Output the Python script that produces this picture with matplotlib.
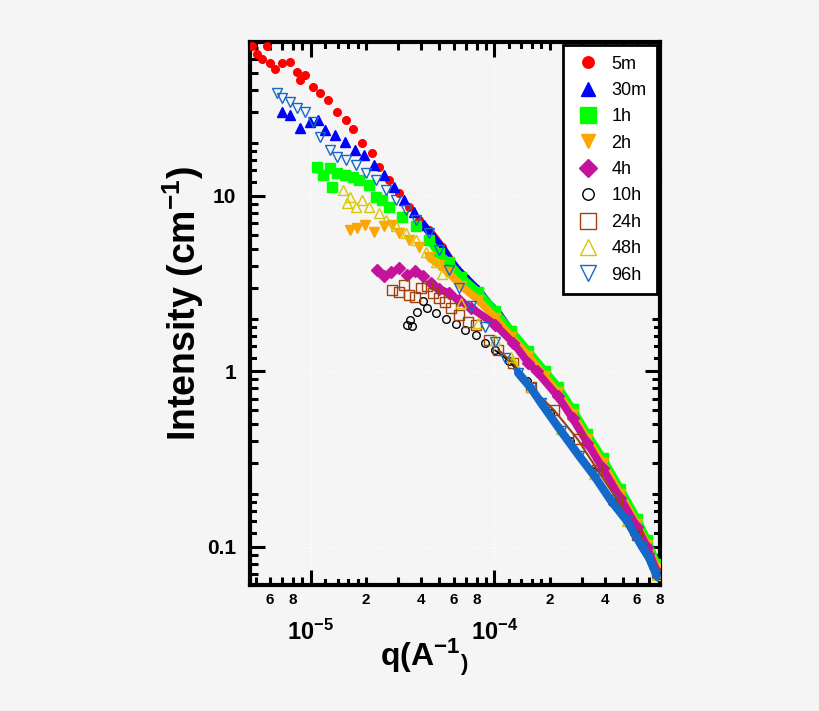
import numpy as np
import matplotlib
matplotlib.use('Agg')
import matplotlib.pyplot as plt
from matplotlib.ticker import LogLocator, FuncFormatter, NullFormatter

plt.rcParams['font.family'] = 'Liberation Sans'
plt.rcParams['font.weight'] = 'bold'
plt.rcParams['mathtext.fontset'] = 'custom'
plt.rcParams['mathtext.rm'] = 'Liberation Sans:bold'
plt.rcParams['mathtext.bf'] = 'Liberation Sans:bold'
plt.rcParams['mathtext.default'] = 'bf'

## data: q (A^-1) and intensity (cm^-1)
q_5m = [4.8e-6, 5.1e-6, 5.4e-6, 5.8e-6, 6.0e-6, 6.4e-6, 7.0e-6, 7.7e-6, 8.4e-6, 8.7e-6,
        9.3e-6, 1.03e-5, 1.12e-5, 1.24e-5, 1.38e-5, 1.56e-5, 1.69e-5, 1.91e-5, 2.16e-5,
        2.36e-5, 2.67e-5, 3.03e-5, 3.43e-5, 3.88e-5, 4.4e-5, 5.2e-5, 6.38e-5, 8.19e-5,
        1.05e-4, 1.35e-4, 1.73e-4, 2.22e-4, 2.85e-4, 3.65e-4, 4.68e-4, 6.0e-4, 7.5e-4]
I_5m = [71, 64, 60, 71, 57, 53, 57, 58, 51, 46,
        49, 41.5, 38.5, 35, 30, 27, 24, 20, 17.5,
        14.6, 12.3, 10.4, 8.7, 7.3, 6.4, 5.1, 3.7, 2.8,
        2.1, 1.5, 1.08, 0.78, 0.5, 0.32, 0.21, 0.14, 0.082]

q_30m = [7.0e-6, 7.7e-6, 8.7e-6, 9.9e-6, 1.09e-5, 1.19e-5, 1.35e-5, 1.53e-5, 1.73e-5,
         1.96e-5, 2.22e-5, 2.51e-5, 2.85e-5, 3.22e-5, 3.65e-5, 4.13e-5, 4.68e-5, 5.3e-5,
         5.64e-5, 6.38e-5, 7.23e-5, 8.19e-5, 9.28e-5, 1.05e-4, 1.24e-4, 1.53e-4, 1.88e-4,
         2.22e-4, 2.67e-4, 3.22e-4, 3.9e-4, 4.86e-4, 6.0e-4, 6.8e-4, 7.7e-4]
I_30m = [30, 29, 24.5, 26.5, 27, 23.8, 22.3, 20.4, 18.3,
         17.2, 15, 13.2, 11.3, 9.5, 8.1, 6.8, 5.75, 4.9,
         4.4, 3.75, 3.3, 2.9, 2.45, 2.15, 1.68, 1.29, 0.99,
         0.8, 0.6, 0.43, 0.31, 0.21, 0.14, 0.108, 0.079]

q_1h = [1.08e-5, 1.16e-5, 1.27e-5, 1.31e-5, 1.38e-5, 1.53e-5, 1.69e-5, 1.84e-5, 2.08e-5,
        2.27e-5, 2.45e-5, 2.67e-5, 3.14e-5, 3.74e-5, 4.4e-5, 4.98e-5, 5.64e-5, 6.6e-5,
        8.19e-5, 1.01e-4, 1.24e-4, 1.53e-4, 1.88e-4, 2.22e-4, 2.67e-4, 3.22e-4, 3.9e-4,
        4.86e-4, 6.0e-4, 6.8e-4, 7.7e-4]
I_1h = [14.6, 13.2, 14.4, 11.3, 13.5, 13.2, 12.8, 12.3, 11.5,
        9.9, 9.5, 8.7, 7.6, 6.7, 5.6, 4.7, 4.2, 3.45,
        2.84, 2.21, 1.70, 1.31, 1.01, 0.82, 0.61, 0.44, 0.32,
        0.215, 0.145, 0.11, 0.08]

q_2h = [1.63e-5, 1.79e-5, 1.98e-5, 2.2e-5, 2.51e-5, 2.77e-5, 3.03e-5, 3.43e-5, 3.88e-5,
        4.4e-5, 4.98e-5, 5.64e-5, 6.6e-5, 8.19e-5, 1.01e-4, 1.24e-4, 1.53e-4, 1.88e-4,
        2.22e-4, 2.67e-4, 3.22e-4, 3.9e-4, 4.86e-4, 6.0e-4, 6.8e-4, 7.7e-4]
I_2h = [6.4, 6.6, 6.85, 6.2, 6.7, 6.85, 6.15, 5.6, 5.1,
        4.5, 4.05, 3.65, 3.07, 2.55, 2.02, 1.57, 1.23, 0.94,
        0.76, 0.57, 0.41, 0.30, 0.20, 0.135, 0.103, 0.076]

q_4h = [2.3e-5, 2.51e-5, 2.74e-5, 3.03e-5, 3.34e-5, 3.7e-5, 4.07e-5, 4.5e-5, 4.98e-5,
        5.64e-5, 6.38e-5, 7.5e-5, 1.01e-4, 1.27e-4, 1.53e-4, 1.7e-4, 2.22e-4, 2.67e-4,
        3.22e-4, 3.9e-4, 4.86e-4, 6.0e-4, 6.8e-4, 7.7e-4]
I_4h = [3.8, 3.5, 3.7, 3.9, 3.55, 3.75, 3.5, 3.2, 2.95,
        2.8, 2.55, 2.3, 1.85, 1.45, 1.12, 1.0, 0.72, 0.54,
        0.39, 0.28, 0.19, 0.13, 0.10, 0.072]

q_10h = [3.34e-5, 3.46e-5, 3.55e-5, 3.79e-5, 4.07e-5, 4.3e-5, 4.8e-5, 5.43e-5, 6.15e-5,
         6.96e-5, 7.9e-5, 8.9e-5, 1.01e-4, 1.2e-4, 1.5e-4, 2.0e-4, 2.6e-4, 3.4e-4,
         4.4e-4, 5.8e-4, 7.7e-4]
I_10h = [1.84, 1.96, 1.82, 2.18, 2.52, 2.3, 2.16, 1.99, 1.87,
         1.72, 1.62, 1.45, 1.32, 1.15, 0.88, 0.58, 0.4, 0.27,
         0.18, 0.12, 0.069]

q_24h = [2.78e-5, 3.03e-5, 3.2e-5, 3.43e-5, 3.7e-5, 3.98e-5, 4.3e-5, 4.63e-5, 4.98e-5,
         5.37e-5, 5.79e-5, 6.38e-5, 7.23e-5, 7.9e-5, 9.3e-5, 1.05e-4, 1.27e-4, 1.59e-4,
         2.12e-4, 2.85e-4, 3.65e-4, 4.68e-4, 6.0e-4, 7.7e-4]
I_24h = [2.91, 2.83, 3.1, 2.73, 2.65, 2.98, 3.07, 2.8, 2.63,
         2.49, 2.3, 2.1, 1.91, 1.84, 1.51, 1.33, 1.11, 0.81,
         0.6, 0.41, 0.275, 0.185, 0.117, 0.071]

q_48h = [1.49e-5, 1.57e-5, 1.63e-5, 1.77e-5, 1.91e-5, 2.08e-5, 2.36e-5, 2.57e-5, 2.92e-5,
         3.3e-5, 3.74e-5, 4.24e-5, 4.8e-5, 5.2e-5, 6.6e-5, 8.19e-5, 1.01e-4, 1.24e-4,
         1.59e-4, 2.3e-4, 3.5e-4, 5.3e-4, 7.7e-4]
I_48h = [10.8, 9.1, 9.9, 8.6, 9.5, 8.6, 8.0, 7.3, 6.7,
         6.15, 5.6, 4.8, 4.2, 3.6, 2.46, 1.89, 1.51, 1.21,
         0.82, 0.47, 0.26, 0.14, 0.069]

q_96h = [6.5e-6, 7.0e-6, 7.7e-6, 8.4e-6, 9.3e-6, 1.03e-5, 1.12e-5, 1.27e-5, 1.38e-5,
         1.56e-5, 1.77e-5, 2.0e-5, 2.27e-5, 2.57e-5, 2.92e-5, 3.3e-5, 3.74e-5, 4.4e-5,
         4.98e-5, 5.64e-5, 6.38e-5, 7.5e-5, 8.9e-5, 1.01e-4, 1.15e-4, 1.35e-4, 1.59e-4,
         1.8e-4, 2.3e-4, 2.9e-4, 3.5e-4, 4.3e-4, 5.3e-4, 6.4e-4, 7.0e-4, 7.7e-4]
I_96h = [38.7, 36.2, 34.3, 31.7, 30, 26.4, 21.6, 18.3, 16.7,
         16.0, 15.0, 13.5, 12.3, 10.8, 9.5, 8.3, 7.3, 6.15,
         4.9, 3.8, 3.0, 2.35, 1.8, 1.48, 1.2, 0.98, 0.8,
         0.66, 0.46, 0.33, 0.255, 0.185, 0.14, 0.1, 0.086, 0.068]

labels = ['5m', '30m', '1h', '2h', '4h', '10h', '24h', '48h', '96h']
qs = [q_5m, q_30m, q_1h, q_2h, q_4h, q_10h, q_24h, q_48h, q_96h]
Is = [I_5m, I_30m, I_1h, I_2h, I_4h, I_10h, I_24h, I_48h, I_96h]

# marker styles
colors = ['#ff0000', '#0000ff', '#00ff00', '#ffa500', '#c4129c',
          '#000000', '#a0400f', '#d6c800', '#1469c8']
markers = ['o', '^', 's', 'v', 'D', 'o', 's', '^', 'v']
filled = [True, True, True, True, True, False, False, False, False]
msizes = [5.5, 7, 7.5, 7, 6, 5.5, 7.5, 7.5, 7.5]
# dense part of each series drawn as a band
band_from = [4e-5, 4e-5, 4e-5, 4e-5, 4.5e-5, 1e-4, 1e-4, 1.2e-4, 1.3e-4]
band_lw = [5.5, 5.5, 5.5, 5.5, 5.5, 1.2, 1.5, 1.5, 6]

fig = plt.figure(figsize=(8.2, 7.11), dpi=100, facecolor='#f5f5f5')
ax = fig.add_axes([250/820, 1 - 585/711, 410/820, 543/711])
ax.set_facecolor('#f5f5f5')
ax.set_xscale('log')
ax.set_yscale('log')

for q, I, c, m, f, ms, qb, lw, lab in zip(qs, Is, colors, markers, filled,
                                          msizes, band_from, band_lw, labels):
    q = np.array(q)
    I = np.array(I)
    sel = q >= qb
    ax.plot(q[sel], I[sel], '-', color=c, lw=lw, solid_capstyle='round', zorder=3)
    if f:
        ax.plot(q, I, m, ms=ms, color=c, mec=c, ls='none', label=lab, zorder=3)
    else:
        ax.plot(q, I, m, ms=ms, mfc='none', mec=c, mew=1.0, ls='none',
                label=lab, zorder=3)

ax.set_xlim(4.66e-6, 8.0e-4)
ax.set_ylim(0.0607, 75.3)

# ticks
ax.xaxis.set_major_locator(LogLocator(base=10, subs=(1.0,)))
ax.xaxis.set_minor_locator(LogLocator(base=10, subs=np.arange(2, 10)))
ax.yaxis.set_major_locator(LogLocator(base=10, subs=(1.0,)))
ax.yaxis.set_minor_locator(LogLocator(base=10, subs=np.arange(2, 10)))


def major_x(v, pos):
    e = int(round(np.log10(v)))
    return r'$\mathbf{10^{%d}}$' % e


def minor_x(v, pos):
    e = np.floor(np.log10(v) + 1e-9)
    m = int(round(v / 10**e))
    return str(m) if m in (2, 4, 6, 8) else ''


ax.xaxis.set_major_formatter(FuncFormatter(major_x))
ax.xaxis.set_minor_formatter(FuncFormatter(minor_x))
ax.yaxis.set_major_formatter(FuncFormatter(lambda v, p: '%g' % v))
ax.yaxis.set_minor_formatter(NullFormatter())

ax.tick_params(which='both', direction='in', top=True, right=True, width=2.2)
ax.tick_params(which='major', length=11)
ax.tick_params(which='minor', length=6)
ax.tick_params(axis='x', which='major', labelsize=17, pad=25)
ax.tick_params(axis='x', which='minor', labelsize=11, pad=6)
ax.tick_params(axis='y', which='major', labelsize=15, pad=10)

# short extra ticks at 1.2 .. 1.8 of each decade
for d in [1e-5, 1e-4]:
    for s in [1.2, 1.4, 1.6, 1.8]:
        ax.plot([s*d, s*d], [0, 5/543], color='k', lw=2.2,
                transform=ax.get_xaxis_transform(), clip_on=False, zorder=4)
        ax.plot([s*d, s*d], [1, 1 - 5/543], color='k', lw=2.2,
                transform=ax.get_xaxis_transform(), clip_on=False, zorder=4)
for d in [0.1, 1, 10]:
    for s in [1.2, 1.4, 1.6, 1.8]:
        ax.plot([0, 5/410], [s*d, s*d], color='k', lw=2.2,
                transform=ax.get_yaxis_transform(), clip_on=False, zorder=4)
        ax.plot([1, 1 - 5/410], [s*d, s*d], color='k', lw=2.2,
                transform=ax.get_yaxis_transform(), clip_on=False, zorder=4)

for sp in ax.spines.values():
    sp.set_linewidth(3)

ax.grid(True, which='major', color='white', ls=':', lw=1)

ax.set_ylabel('Intensity (cm$^{-1}$)', fontsize=27, fontweight='bold')
ax.yaxis.set_label_coords(-0.107, 0.518)
ax.set_xlabel(r'q(A$^{-1}{}_{)}$', fontsize=23, fontweight='bold')
ax.xaxis.set_label_coords(0.425, -0.094)

leg = ax.legend(loc='upper right', bbox_to_anchor=(1.0, 1.0), borderaxespad=0.15,
                markerscale=1.5, labelspacing=0.52, handletextpad=0.5,
                handlelength=1.6, borderpad=0.6, fancybox=False, framealpha=1,
                edgecolor='black', prop={'weight': 'normal', 'size': 13})
leg.get_frame().set_linewidth(2)
leg.set_zorder(10)

fig.savefig('out.png', dpi=100, facecolor=fig.get_facecolor())
